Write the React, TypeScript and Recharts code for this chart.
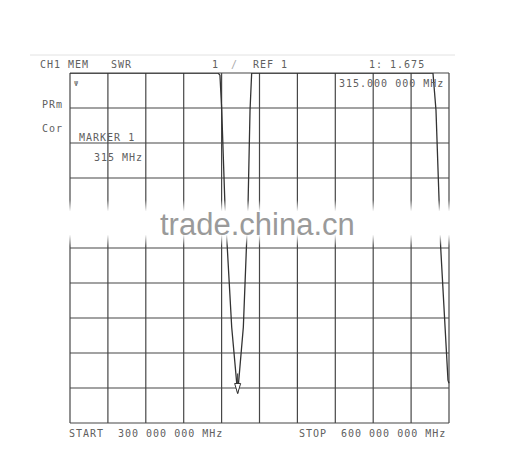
import React from "react";
import { LineChart, Line, XAxis, YAxis, CartesianGrid, ReferenceDot } from "recharts";

// sweep 300 - 600 MHz, SWR trace
const freqMHz = [300, 417.2, 418.7, 420.1, 422.7, 428, 432.7, 437.2, 440.9, 442.5, 443.8, 587.3, 589.7, 593.4, 599.2, 600];
const swr = [9, 9, 8.95, 8.15, 5.94, 3.19, 1.675, 3.19, 5.94, 8.15, 9, 9, 8.15, 5.02, 1.98, 1.91];

const xTicks = [300, 330, 360, 390, 420, 450, 480, 510, 540, 570, 600];
const yTicks = [1, 1.8, 2.6, 3.4, 4.2, 5, 5.8, 6.6, 7.4, 8.2, 9];

const markerFreq = 432.7;
const markerSwr = 1.675;

const data = freqMHz.map((f, i) => ({ f, swr: swr[i] }));

const mono = { fontFamily: "'DejaVu Sans Mono', monospace", fontSize: 10, letterSpacing: 1, fill: "#606060" };

const MarkerArrow = (props: any) => {
  const { cx, cy } = props;
  if (cx == null || cy == null) return null;
  return (
    <g stroke="#333" strokeWidth={1} fill="#fff">
      <line x1={cx} y1={cy - 20} x2={cx} y2={cy - 10} />
      <path d={`M${cx - 3},${cy - 10} L${cx + 3},${cy - 10} L${cx},${cy} Z`} />
    </g>
  );
};

export default function App() {
  return (
    <div style={{ position: "relative", width: 500, height: 455 }}>
      <LineChart
        width={500}
        height={440}
        data={data}
        margin={{ top: 65, left: 62, right: 59, bottom: 25 }}
      >
        <CartesianGrid stroke="#474747" strokeWidth={1.2} />
        <XAxis dataKey="f" type="number" domain={[300, 600]} ticks={xTicks} hide />
        <YAxis type="number" domain={[1, 9]} ticks={yTicks} hide allowDataOverflow />
        <Line
          type="linear"
          dataKey="swr"
          stroke="#333"
          strokeWidth={1.3}
          dot={false}
          isAnimationActive={false}
        />
        <ReferenceDot x={markerFreq} y={markerSwr} shape={MarkerArrow} />
      </LineChart>
      <svg
        width={500}
        height={455}
        style={{ position: "absolute", left: 0, top: 0, pointerEvents: "none" }}
      >
        <defs>
          <linearGradient id="haze" x1="0" y1="0" x2="0" y2="1">
            <stop offset="0" stopColor="#fff" stopOpacity={0} />
            <stop offset="0.25" stopColor="#fff" stopOpacity={1} />
            <stop offset="0.75" stopColor="#fff" stopOpacity={1} />
            <stop offset="1" stopColor="#fff" stopOpacity={0} />
          </linearGradient>
        </defs>
        <line x1={22} y1={47} x2={447} y2={47} stroke="#e2e2e2" strokeWidth={1} />
        <text x={32} y={60} {...mono}>CH1</text>
        <text x={60} y={60} {...mono}>MEM</text>
        <text x={103} y={60} {...mono}>SWR</text>
        <text x={204} y={60} {...mono}>1</text>
        <text x={223} y={60} {...mono} fill="#aaa">/</text>
        <text x={245} y={60} {...mono}>REF 1</text>
        <text x={361} y={60} {...mono}>1: 1.675</text>
        <text x={331} y={79} {...mono}>315.000 000 MHz</text>
        <text x={66} y={78} {...mono} fontSize={7}>Ψ</text>
        <text x={34} y={100} {...mono}>PRm</text>
        <text x={34} y={124} {...mono}>Cor</text>
        <text x={71} y={133} {...mono}>MARKER 1</text>
        <text x={86} y={153} {...mono}>315 MHz</text>
        <text x={61} y={429} {...mono}>START</text>
        <text x={110} y={429} {...mono}>300 000 000 MHz</text>
        <text x={291} y={429} {...mono}>STOP</text>
        <text x={333} y={429} {...mono}>600 000 000 MHz</text>
        <rect x={30} y={192} width={430} height={46} fill="url(#haze)" />
        <text
          x={152}
          y={227}
          fontFamily="'Liberation Sans', Arial, sans-serif"
          fontSize={31}
          fill="#9a9a9a"
        >
          trade.china.cn
        </text>
      </svg>
    </div>
  );
}
